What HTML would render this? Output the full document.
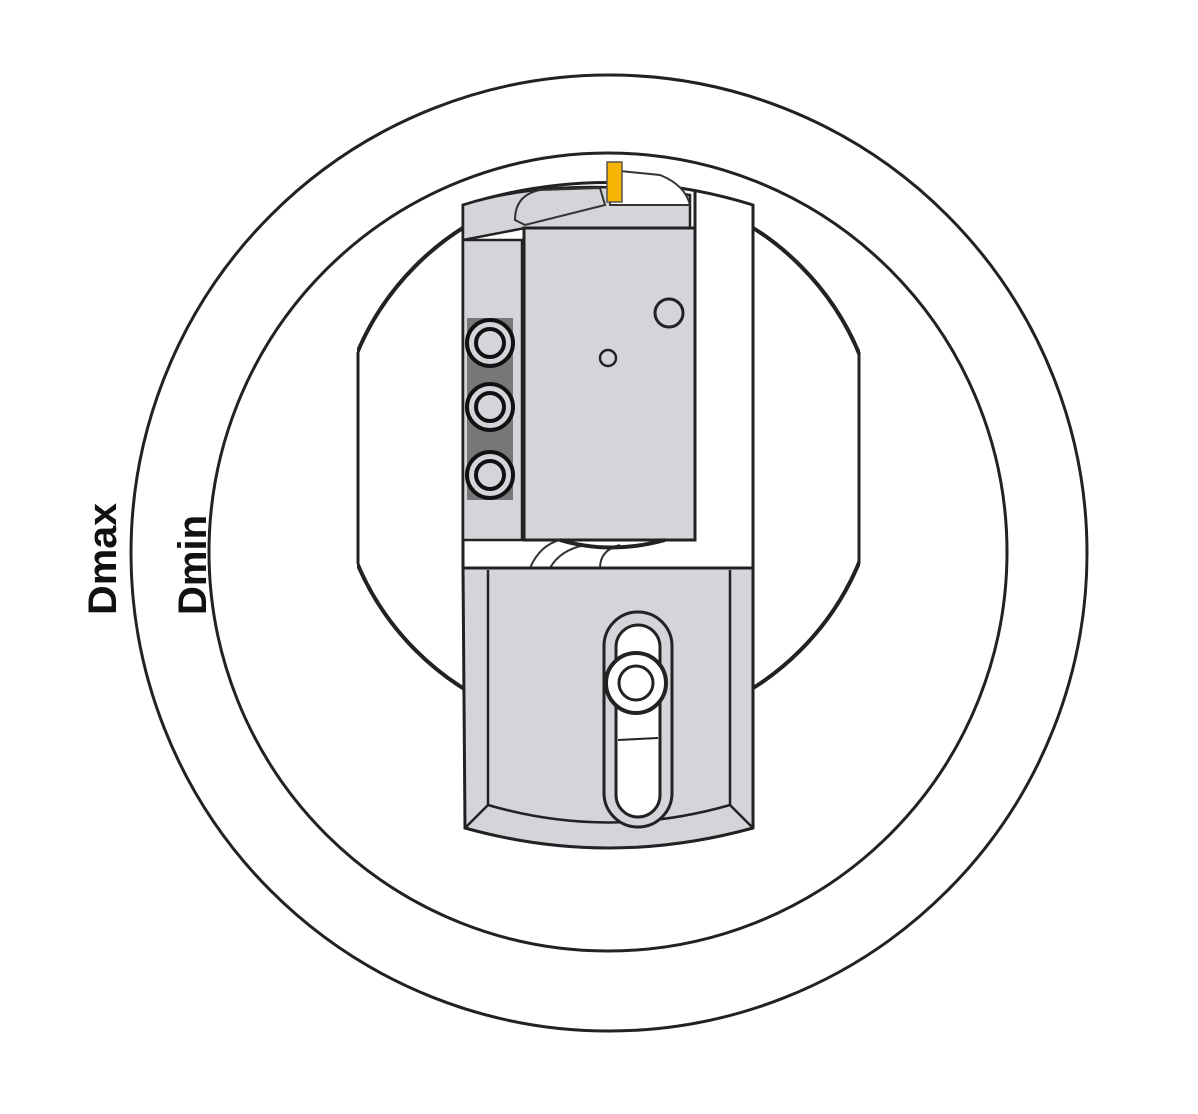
<!DOCTYPE html>
<html><head><meta charset="utf-8"><style>html,body{margin:0;padding:0;background:#fff}svg{display:block}</style></head>
<body>
<svg width="1198" height="1114" viewBox="0 0 1198 1114" xmlns="http://www.w3.org/2000/svg">
<defs>
<clipPath id="flat"><rect x="357" y="0" width="503" height="1114"/></clipPath>
</defs>
<rect width="1198" height="1114" fill="#fff"/>
<circle cx="609" cy="553" r="478" fill="none" stroke="#222" stroke-width="3"/>
<circle cx="608" cy="552" r="399" fill="none" stroke="#222" stroke-width="3"/>
<g clip-path="url(#flat)">
<circle cx="608" cy="458" r="272" fill="#fff" stroke="#222" stroke-width="4"/>
</g>
<line x1="358" y1="352" x2="358" y2="564" stroke="#222" stroke-width="3"/>
<line x1="859" y1="352" x2="859" y2="564" stroke="#222" stroke-width="3"/>
<path d="M463 540 L463 205 Q608 160 753 205 L753 568 L463 568 Z" fill="#fff" stroke="#222" stroke-width="3"/>
<path d="M463 205 Q560 175 690 195 L690 228 L525 228 L463 240 Z" fill="#d4d5da" stroke="#222" stroke-width="2.5"/>
<path d="M515 220 Q515 195 540 190 L600 188 L605 205 L525 225 Z" fill="#d4d5da" stroke="#333" stroke-width="2"/>
<path d="M610 205 L690 205 Q685 185 660 175 L610 170 Z" fill="#fff" stroke="#333" stroke-width="2"/>
<rect x="607" y="162" width="15" height="40" fill="#f5b400" stroke="#555" stroke-width="1.5"/>
<line x1="695" y1="190" x2="695" y2="540" stroke="#222" stroke-width="3"/>
<rect x="463" y="240" width="59" height="300" fill="#d4d5da" stroke="#222" stroke-width="2.5"/>
<rect x="524" y="228" width="171" height="312" fill="#d4d5da" stroke="#222" stroke-width="3"/>
<circle cx="669" cy="313" r="14" fill="#d4d5da" stroke="#222" stroke-width="3"/>
<circle cx="608" cy="358" r="8" fill="#d4d5da" stroke="#222" stroke-width="2.5"/>
<rect x="467" y="318" width="46" height="182" fill="#777"/>
<g fill="#d4d5da" stroke="#111" stroke-width="4">
<circle cx="490" cy="343" r="23"/><circle cx="490" cy="343" r="14"/>
<circle cx="490" cy="407" r="23"/><circle cx="490" cy="407" r="14"/>
<circle cx="490" cy="475" r="23"/><circle cx="490" cy="475" r="14"/>
</g>
<path d="M530 568 Q540 545 560 540 M550 568 Q560 550 585 545 M600 568 Q600 550 620 545" fill="none" stroke="#333" stroke-width="2"/>
<path d="M560 540 Q610 555 665 540" fill="none" stroke="#222" stroke-width="4"/>
<path d="M463 568 L753 568 L753 828 Q608 868 465 828 Z" fill="#d4d5da" stroke="#222" stroke-width="3"/>
<line x1="488" y1="570" x2="488" y2="805" stroke="#222" stroke-width="2.5"/>
<line x1="730" y1="570" x2="730" y2="805" stroke="#222" stroke-width="2.5"/>
<path d="M465 828 L488 805 Q608 840 730 805 L753 828" fill="none" stroke="#222" stroke-width="2.5"/>
<rect x="604" y="612" width="68" height="215" rx="34" fill="#d4d5da" stroke="#222" stroke-width="3"/>
<rect x="616" y="625" width="44" height="192" rx="22" fill="#fff" stroke="#222" stroke-width="3"/>
<line x1="618" y1="740" x2="658" y2="738" stroke="#222" stroke-width="2"/>
<circle cx="636" cy="683" r="30" fill="#fff" stroke="#222" stroke-width="4"/>
<circle cx="636" cy="683" r="17" fill="#fff" stroke="#222" stroke-width="3"/>
<text transform="translate(116,615) rotate(-90)" font-family="Liberation Sans, sans-serif" font-weight="bold" font-size="40" textLength="112" lengthAdjust="spacingAndGlyphs" fill="#111">Dmax</text>
<text transform="translate(206,615) rotate(-90)" font-family="Liberation Sans, sans-serif" font-weight="bold" font-size="40" textLength="100" lengthAdjust="spacingAndGlyphs" fill="#111">Dmin</text>
</svg>
</body></html>
